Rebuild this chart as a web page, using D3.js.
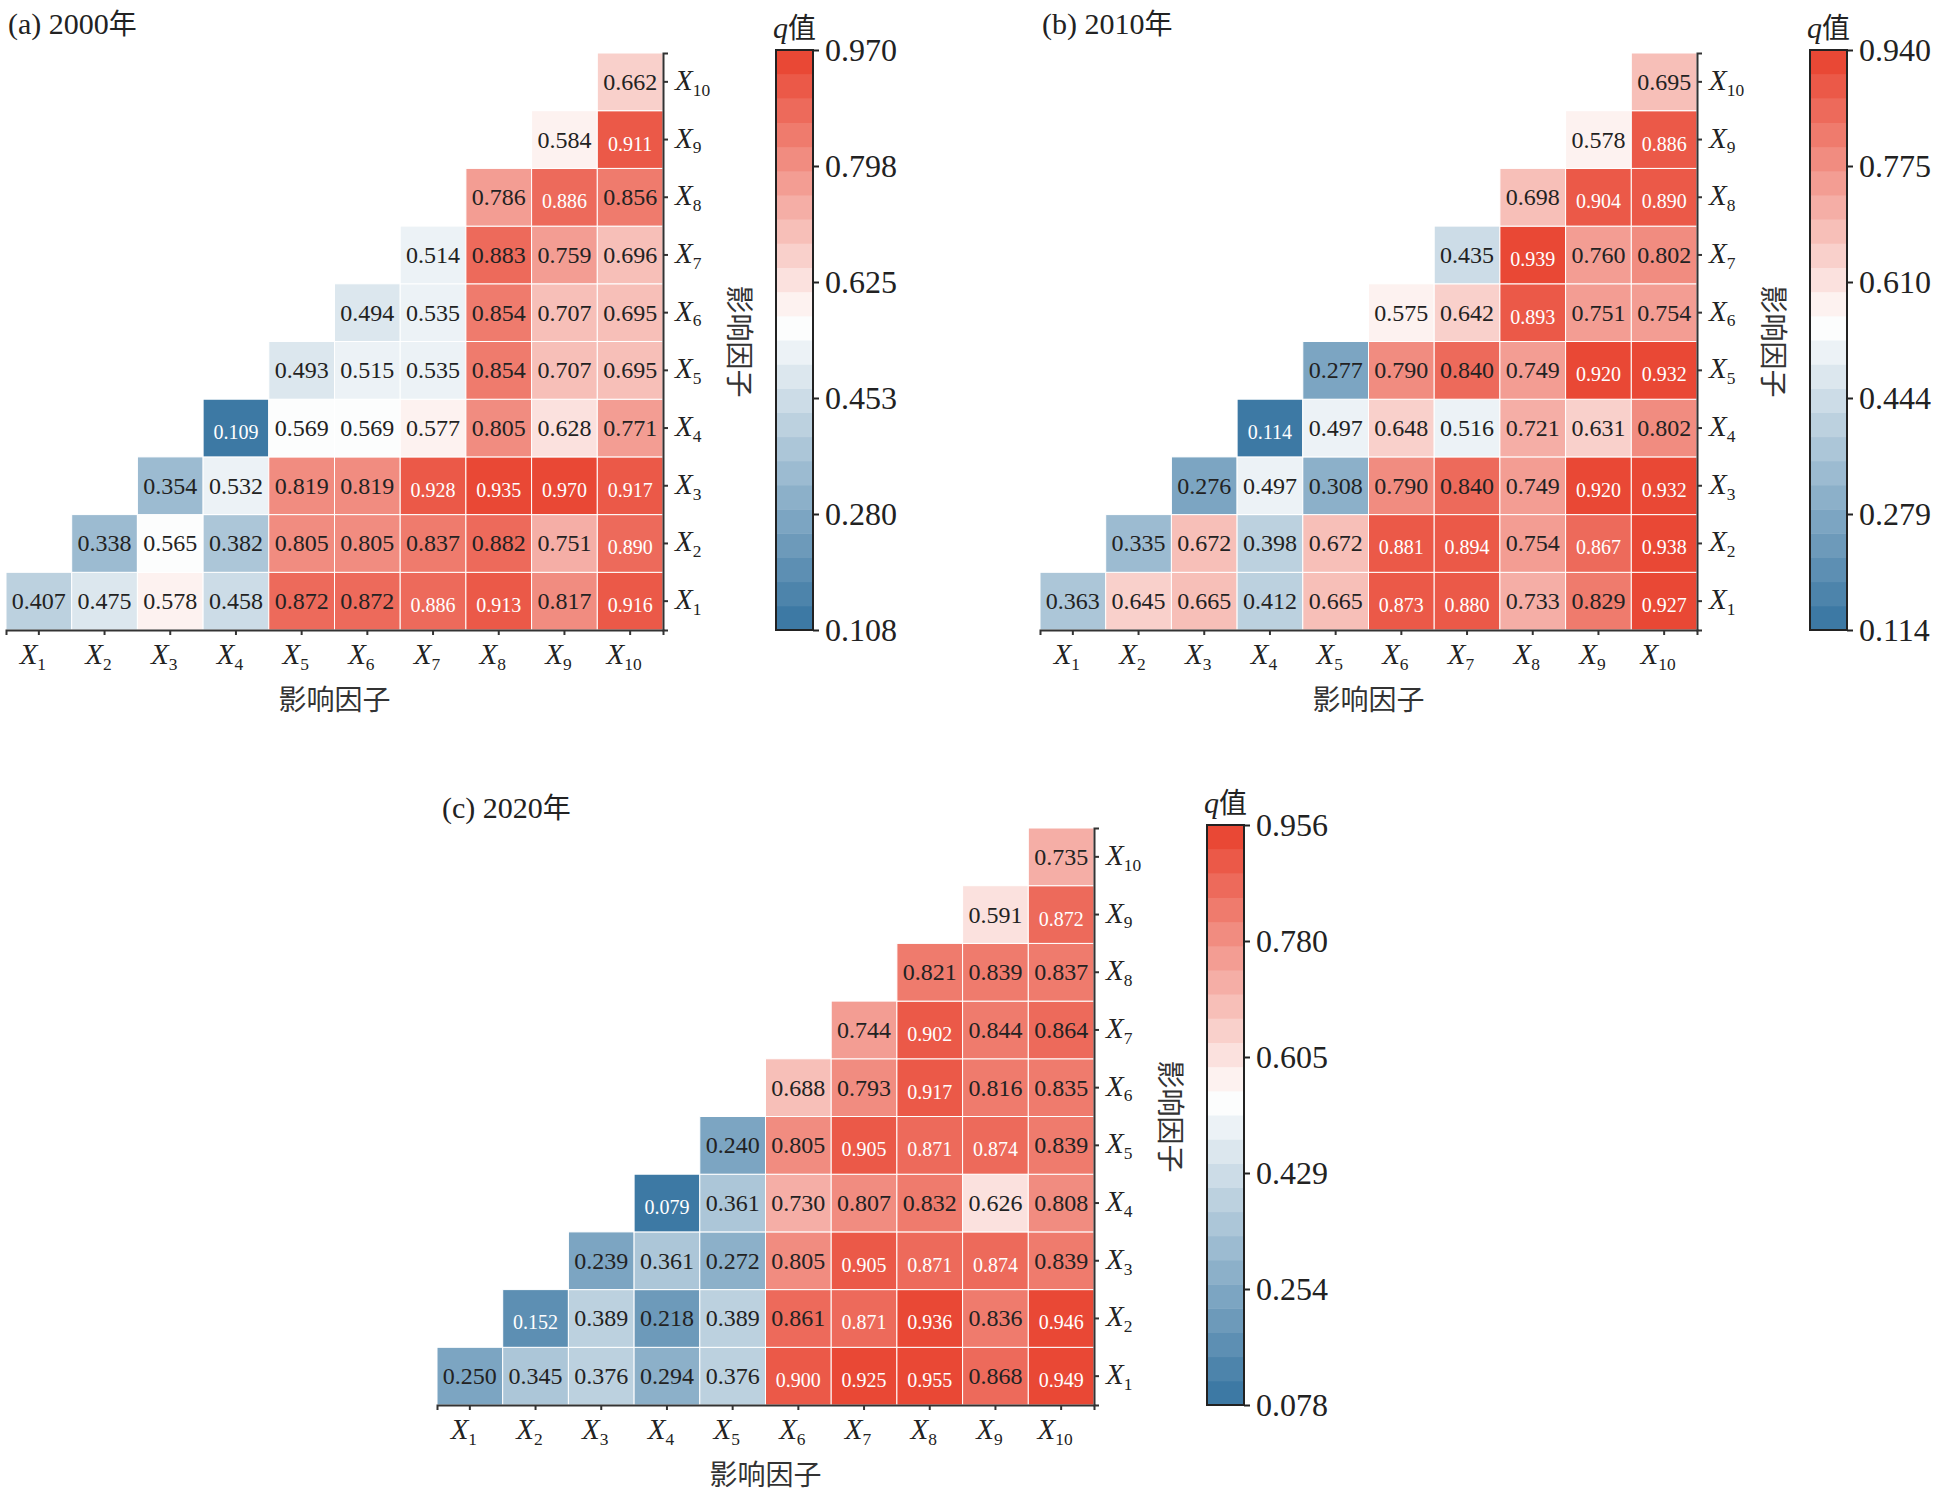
<!DOCTYPE html>
<html>
<head>
<meta charset="UTF-8">
<script src="https://d3js.org/d3.v7.min.js"></script>
<style>
  body { margin: 0; background: white; }
  text { font-family: "Liberation Serif", "Times New Roman", serif; }
  .cjk { font-family: "Noto Sans CJK SC", sans-serif; }
</style>
</head>
<body>
<svg id="chart" width="1941" height="1498"></svg>
<script>
// factors X1..X10
var factors = ["1","2","3","4","5","6","7","8","9","10"]

// q values, row Xr holds columns Xr..X10
var q2000 = [
  [0.407,0.475,0.578,0.458,0.872,0.872,0.886,0.913,0.817,0.916],
  [0.338,0.565,0.382,0.805,0.805,0.837,0.882,0.751,0.890],
  [0.354,0.532,0.819,0.819,0.928,0.935,0.970,0.917],
  [0.109,0.569,0.569,0.577,0.805,0.628,0.771],
  [0.493,0.515,0.535,0.854,0.707,0.695],
  [0.494,0.535,0.854,0.707,0.695],
  [0.514,0.883,0.759,0.696],
  [0.786,0.886,0.856],
  [0.584,0.911],
  [0.662]
]
var q2010 = [
  [0.363,0.645,0.665,0.412,0.665,0.873,0.880,0.733,0.829,0.927],
  [0.335,0.672,0.398,0.672,0.881,0.894,0.754,0.867,0.938],
  [0.276,0.497,0.308,0.790,0.840,0.749,0.920,0.932],
  [0.114,0.497,0.648,0.516,0.721,0.631,0.802],
  [0.277,0.790,0.840,0.749,0.920,0.932],
  [0.575,0.642,0.893,0.751,0.754],
  [0.435,0.939,0.760,0.802],
  [0.698,0.904,0.890],
  [0.578,0.886],
  [0.695]
]
var q2020 = [
  [0.250,0.345,0.376,0.294,0.376,0.900,0.925,0.955,0.868,0.949],
  [0.152,0.389,0.218,0.389,0.861,0.871,0.936,0.836,0.946],
  [0.239,0.361,0.272,0.805,0.905,0.871,0.874,0.839],
  [0.079,0.361,0.730,0.807,0.832,0.626,0.808],
  [0.240,0.805,0.905,0.871,0.874,0.839],
  [0.688,0.793,0.917,0.816,0.835],
  [0.744,0.902,0.844,0.864],
  [0.821,0.839,0.837],
  [0.591,0.872],
  [0.735]
]
var titles = ["(a) 2000年", "(b) 2010年", "(c) 2020年"]
var ranges = [[0.108,0.970],[0.114,0.940],[0.078,0.956]]
var whiteAbove = [0.885, 0.865, 0.87]

var svg = d3.select("#chart")
var cw = 65.7, ch = 57.7

function subLabel(sel, num, size){
  sel.append("tspan").attr("font-style","italic").attr("font-size",size).text("X")
  sel.append("tspan").attr("font-size",size*0.6).attr("dy",size*0.2).text(num)
}

function drawPanel(data, title, range, thr, ox, oy){
  var g = svg.append("g").attr("transform","translate("+ox+","+oy+")")
  var x = d3.scaleBand().domain(factors).range([0, cw*10])
  var y = d3.scaleBand().domain(factors.slice().reverse()).range([0, ch*10])
  var mid = range[0] + 0.53*(range[1]-range[0])
  var nb = 24
  var cont = d3.scaleLinear().domain([range[0], mid, range[1]]).range(["#3574a0","#ffffff","#e8402c"])
  var color = function(v){
    var k = Math.min(nb-1, Math.floor((v-range[0])/(range[1]-range[0])*nb))
    return cont(range[0] + (k+0.5)*(range[1]-range[0])/nb)
  }

  var cells = []
  data.forEach(function(row, r){
    row.forEach(function(v, j){ cells.push({r: factors[r], c: factors[r+j], v: v}) })
  })
  g.selectAll("rect.cell").data(cells).enter().append("rect")
    .attr("x", d => x(d.c)).attr("y", d => y(d.r))
    .attr("width", cw).attr("height", ch)
    .attr("fill", d => color(d.v)).attr("stroke","white").attr("stroke-width",1)
  g.selectAll("text.val").data(cells).enter().append("text")
    .attr("x", d => x(d.c)+cw/2).attr("y", d => y(d.r)+ch/2)
    .attr("text-anchor","middle").attr("dominant-baseline","central")
    .attr("dy", d => (d.v>=thr || d.v<0.2) ? 4 : 0)
    .attr("font-size", d => (d.v>=thr || d.v<0.2) ? 20 : 24)
    .attr("fill", d => (d.v>=thr || d.v<0.2) ? "white" : "#222")
    .text(d => d3.format(".3f")(d.v))

  // axes
  var xa = g.append("g").attr("transform","translate(0,"+(ch*10)+")")
    .call(d3.axisBottom(x).tickSize(5).tickFormat(""))
  var ya = g.append("g").attr("transform","translate("+(cw*10)+",0)")
    .call(d3.axisRight(y).tickSize(5).tickFormat(""))
  xa.selectAll("path,line").attr("stroke","#333").attr("stroke-width",2)
  ya.selectAll("path,line").attr("stroke","#333").attr("stroke-width",2)
  factors.forEach(function(f){
    var t = g.append("text").attr("x", x(f)+cw/2-6).attr("y", ch*10+34).attr("text-anchor","middle").attr("fill","#222")
    subLabel(t, f, 29)
    var t2 = g.append("text").attr("x", cw*10+12).attr("y", y(f)+ch/2+8).attr("fill","#222")
    subLabel(t2, f, 29)
  })
  g.append("text").attr("class","cjk").attr("x", cw*5).attr("y", ch*10+80)
    .attr("text-anchor","middle").attr("font-size",28).attr("fill","#333").text("影响因子")
  g.append("text").attr("class","cjk").attr("transform","translate("+(cw*10+66)+","+(ch*5)+") rotate(90)")
    .attr("text-anchor","middle").attr("font-size",28).attr("fill","#333").text("影响因子")

  // colorbar
  var cbx = 770, cbw = 37, cbTop = -3, cbH = ch*10+3
  var cy = d3.scaleLinear().domain(range).range([cbTop+cbH, cbTop])
  var bands = d3.range(nb)
  var step = (range[1]-range[0])/nb
  g.selectAll("rect.band").data(bands).enter().append("rect")
    .attr("x", cbx).attr("width", cbw)
    .attr("y", k => cy(range[0]+(k+1)*step)).attr("height", k => cy(range[0]+k*step)-cy(range[0]+(k+1)*step)+0.5)
    .attr("fill", k => cont(range[0]+(k+0.5)*step))
  g.append("rect").attr("x",cbx).attr("y",cbTop).attr("width",cbw).attr("height",cbH)
    .attr("fill","none").attr("stroke","#222").attr("stroke-width",2)
  var ticks = d3.range(6).map(i => range[0] + i*(range[1]-range[0])/5)
  var ca = g.append("g").attr("transform","translate("+(cbx+cbw)+",0)")
    .call(d3.axisRight(cy).tickValues(ticks).tickSize(6).tickFormat(d3.format(".3f")))
  ca.select(".domain").remove()
  ca.selectAll("line").attr("stroke","#222").attr("stroke-width",2)
  ca.selectAll("text").attr("font-size",32).attr("fill","#222").attr("x",12)
    .style("font-family","'Liberation Serif', serif")
  var qt = g.append("text").attr("x", cbx+cbw/2).attr("y", cbTop-12).attr("text-anchor","middle").attr("font-size",30).attr("fill","#222")
  qt.append("tspan").attr("font-style","italic").text("q")
  qt.append("tspan").attr("class","cjk").style("font-family","'Noto Sans CJK SC'").attr("font-size",28).text("值")

  return g
}

drawPanel(q2000, titles[0], ranges[0], whiteAbove[0], 6, 53)
drawPanel(q2010, titles[1], ranges[1], whiteAbove[1], 1040, 53)
drawPanel(q2020, titles[2], ranges[2], whiteAbove[2], 437, 828)

function title(t, x, y){
  var el = svg.append("text").attr("x",x).attr("y",y).attr("font-size",30).attr("fill","#222")
  el.append("tspan").text(t.slice(0,-1))
  el.append("tspan").style("font-family","'Noto Sans CJK SC'").attr("font-size",28).text(t.slice(-1))
}
title(titles[0], 8, 34)
title(titles[1], 1042, 34)
title(titles[2], 442, 818)
</script>
</body>
</html>
